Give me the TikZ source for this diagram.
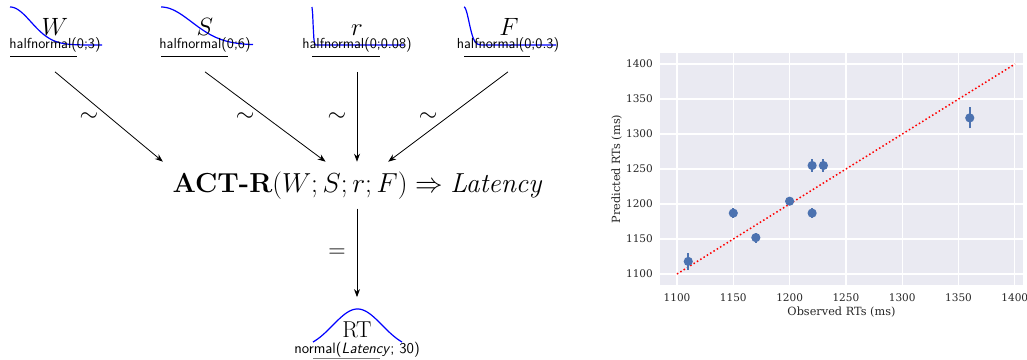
\RequirePackage{fix-cm}
\documentclass[tikz,border=0pt]{standalone}
\usepackage{fontspec}
\newfontfamily\plotfont{DejaVu Serif}
\usetikzlibrary{arrows.meta}
\definecolor{bgc}{HTML}{EAEAF2}
\definecolor{ptc}{HTML}{4C72B0}
\definecolor{axgray}{HTML}{262626}
\newcommand\hncurve[2]{\draw[curve] plot[domain=0:92,samples=150] ({#1+\x},{45-38*exp(-min(20,\x*\x/(2*#2*#2)))});}
\begin{document}
\begin{tikzpicture}[x=1pt,y=-1pt,
  lab/.style={font=\fontsize{14.5}{16}\sffamily, inner xsep=0pt, inner ysep=20pt, anchor=base},
  sym/.style={font=\fontsize{25}{29}\selectfont, inner sep=0pt, anchor=base},
  arr/.style={-{Stealth[length=8pt,width=6pt]}, line width=0.8pt},
  curve/.style={blue, line width=1.2pt},
  uline/.style={line width=0.7pt},
  rel/.style={font=\fontsize{24}{28}\selectfont, midway, xshift=-20pt},
  grid/.style={white, line width=1.3pt},
  tick/.style={font=\plotfont\fontsize{10.5}{12}\selectfont, text=axgray, inner sep=0pt},
  axlab/.style={font=\plotfont\fontsize{11.3}{13}\selectfont, text=axgray, inner sep=0pt},
  ebar/.style={ptc, line width=1.8pt},
]
\useasboundingbox (0,0) rectangle (1027,359);

% ---------- left diagram ----------
\hncurve{10}{21}
\hncurve{161}{30.6}
\hncurve{312}{1}
\hncurve{464}{5}

\node[sym] (W) at (55,35) {$W$};
\node[sym] (S) at (205,35) {$S$};
\node[sym] (r) at (357,35) {$r$};
\node[sym] (F) at (509,35) {$F$};

\node[lab] (Wl) at (55,48) {halfnormal(0;3)};
\node[lab] (Sl) at (205,48) {halfnormal(0;6)};
\node[lab] (rl) at (357,48) {halfnormal(0;0.08)};
\node[lab] (Fl) at (508,48) {halfnormal(0;0.3)};

\draw[uline] ([shift={(-45pt,-8pt)}]Wl.base) -- ++(67pt,0pt);
\draw[uline] ([shift={(-44pt,-8pt)}]Sl.base) -- ++(67pt,0pt);
\draw[uline] ([shift={(-45pt,-8pt)}]rl.base) -- ++(68pt,0pt);
\draw[uline] ([shift={(-44pt,-8pt)}]Fl.base) -- ++(66pt,0pt);

\node[font=\fontsize{27.5}{32}\selectfont, inner sep=9.5pt, anchor=base] (act) at (357,192)
  {$\textbf{ACT-R}(W;S;r;F)\Rightarrow\textit{Latency}$};

\draw[arr] (Wl.south) -- node[rel] {$\sim$} (act.north west);
\draw[arr] (Sl.south) -- node[rel] {$\sim$} (act);
\draw[arr] (rl.south) -- node[rel] {$\sim$} (act);
\draw[arr] (Fl.south) -- node[rel] {$\sim$} (act);

\draw[curve] plot[domain=-44.5:44.5, samples=80] ({357.5+\x},{350-41*exp(-\x*\x/(2*24.6*24.6))});
\node[font=\fontsize{23}{27}\selectfont, inner xsep=0pt, inner ysep=24pt, anchor=base] (RT) at (357,337) {RT};
\node[font=\fontsize{15}{17}\sffamily, inner sep=0pt, anchor=base] (RTl) at (357,353) {normal(\textit{Latency}; 30)};
\draw[uline, gray] ([shift={(-44pt,-5pt)}]RTl.base) -- ++(67pt,0pt);

\draw[arr] (act) -- node[rel] {$=$} (RT);

% ---------- scatter plot ----------
\fill[bgc] (660,53) rectangle (1023,285);
\foreach \v in {1100,1150,...,1400} {
  \draw[grid] ({677+(\v-1100)*1.126},53) -- ({677+(\v-1100)*1.126},285);
  \draw[grid] (660,{274-(\v-1100)*0.7}) -- (1023,{274-(\v-1100)*0.7});
  \node[tick, anchor=base] at ({677+(\v-1100)*1.126},301) {\v};
  \node[tick, anchor=east] at (653,{274-(\v-1100)*0.7}) {\v};
}
\node[axlab, anchor=base] (xl) at (841.5,315) {Observed RTs (ms)};
\node[axlab, anchor=base, rotate=90] (yl) at (620,169) {Predicted RTs (ms)};

\draw[red, line width=1.5pt, dash pattern=on 1.5pt off 2.4pt] (677,274) -- (1015,64);

\foreach \o/\p/\e in {1110/1118/12, 1150/1187/7, 1170/1152/7, 1200/1204/6, 1220/1187/7, 1220/1255/9, 1230/1255/9, 1360/1323/15} {
  \draw[ebar] ({677+(\o-1100)*1.126},{274-(\p-\e-1100)*0.7}) -- ({677+(\o-1100)*1.126},{274-(\p+\e-1100)*0.7});
  \fill[ptc] ({677+(\o-1100)*1.126},{274-(\p-1100)*0.7}) circle[radius=4.6pt];
}
\end{tikzpicture}
\end{document}
